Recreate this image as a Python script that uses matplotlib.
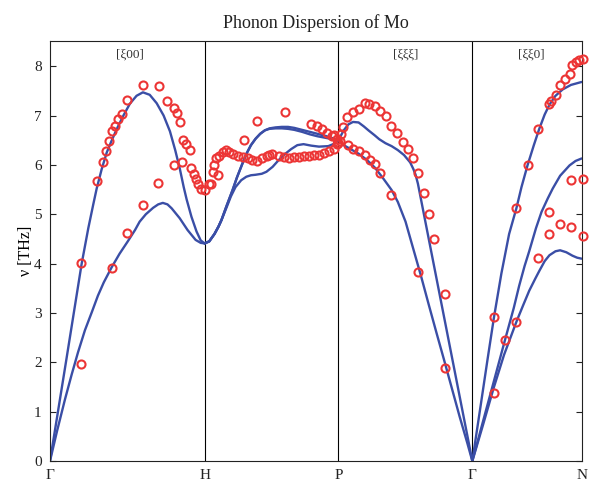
import numpy as np
import matplotlib
matplotlib.use("Agg")
from matplotlib import pyplot as plt

plt.rcParams['font.family'] = ['Liberation Serif', 'DejaVu Serif']

# --- high symmetry points (path length in units of 2pi/a) ---
sym_labels = ['Γ', 'H', 'P', 'Γ', 'N']
sym_pos = [0.0, 1.0, 1.866, 2.732, 3.439]
dir_labels = ['[ξ00]', '[ξξξ]', '[ξξ0]']
dir_pos = [0.52, 2.30, 3.113]

# --- calculated branches ---
gh_up_x = [0.0, 0.103, 0.205, 0.248, 0.28, 0.302, 0.335, 0.367, 0.40, 0.431, 0.475, 0.517, 0.56, 0.601,
           0.645, 0.690, 0.735, 0.776, 0.81, 0.840, 0.865, 0.884, 0.915, 0.948, 0.975, 1.0]
gh_up_y = [0.0, 2.00, 4.00, 4.72, 5.20, 5.52, 5.92, 6.25, 6.50, 6.72, 7.00, 7.24, 7.40, 7.47,
           7.42, 7.25, 7.00, 6.68, 6.30, 5.92, 5.55, 5.30, 4.95, 4.65, 4.47, 4.41]
gh_lo_x = [0.0, 0.045, 0.097, 0.14, 0.181, 0.226, 0.271, 0.31, 0.348, 0.398, 0.45, 0.503, 0.55, 0.58,
           0.62, 0.667, 0.70, 0.73, 0.76, 0.787, 0.839, 0.89, 0.942, 0.975, 1.0]
gh_lo_y = [0.0, 0.60, 1.25, 1.75, 2.20, 2.65, 3.02, 3.35, 3.62, 3.92, 4.20, 4.45, 4.68, 4.85,
           5.00, 5.13, 5.20, 5.23, 5.20, 5.12, 4.92, 4.68, 4.48, 4.42, 4.41]

hp_up_x = [1.0, 1.03, 1.064, 1.09, 1.109, 1.14, 1.18, 1.21, 1.244, 1.27, 1.30, 1.33, 1.36, 1.39, 1.42,
           1.46, 1.50, 1.54, 1.58, 1.63, 1.68, 1.73, 1.78, 1.83, 1.866]
hp_up_y = [4.41, 4.45, 4.60, 4.75, 4.88, 5.15, 5.48, 5.75, 6.02, 6.22, 6.40, 6.53, 6.63, 6.70, 6.74,
           6.76, 6.77, 6.77, 6.75, 6.71, 6.67, 6.63, 6.59, 6.54, 6.50]
hp_up2_y = [4.41, 4.45, 4.60, 4.75, 4.88, 5.15, 5.48, 5.75, 6.02, 6.22, 6.40, 6.53, 6.63, 6.70, 6.73,
            6.74, 6.74, 6.73, 6.71, 6.67, 6.62, 6.58, 6.55, 6.52, 6.50]
hp_lo_x = [1.0, 1.03, 1.064, 1.09, 1.109, 1.14, 1.17, 1.20, 1.237, 1.27, 1.30, 1.33, 1.37, 1.40, 1.44,
           1.48, 1.52, 1.56, 1.60, 1.64, 1.69, 1.74, 1.80, 1.84, 1.866]
hp_lo_y = [4.41, 4.45, 4.60, 4.75, 4.88, 5.12, 5.36, 5.55, 5.69, 5.76, 5.79, 5.80, 5.82, 5.86, 5.96,
           6.10, 6.22, 6.32, 6.40, 6.42, 6.39, 6.37, 6.38, 6.43, 6.50]

pg_up_x = [1.866, 1.90, 1.93, 1.96, 1.996, 2.03, 2.06, 2.10, 2.13, 2.17, 2.21, 2.25, 2.29, 2.33, 2.35,
           2.365, 2.38, 2.732]
pg_up_y = [6.50, 6.70, 6.82, 6.87, 6.86, 6.78, 6.70, 6.60, 6.52, 6.44, 6.38, 6.30, 6.20, 6.05, 5.92,
           5.80, 5.62, 0.0]
pg_lo_x = [1.866, 1.90, 1.95, 2.00, 2.05, 2.10, 2.15, 2.21, 2.25, 2.30, 2.35, 2.40, 2.45, 2.50, 2.55,
           2.60, 2.65, 2.70, 2.732]
pg_lo_y = [6.50, 6.40, 6.31, 6.22, 6.10, 5.95, 5.75, 5.49, 5.25, 4.85, 4.30, 3.75, 3.17, 2.60, 2.04,
           1.47, 0.90, 0.36, 0.0]

gn_up_x = [2.732, 2.78, 2.83, 2.872, 2.92, 2.97, 3.017, 3.05, 3.089, 3.13, 3.165, 3.20, 3.231, 3.27,
           3.317, 3.37, 3.439]
gn_up_y = [0.0, 1.00, 2.05, 2.91, 3.80, 4.60, 5.12, 5.55, 5.99, 6.40, 6.73, 7.02, 7.22, 7.40,
           7.53, 7.62, 7.68]
gn_mid_x = [2.732, 2.80, 2.87, 2.944, 3.00, 3.035, 3.07, 3.10, 3.144, 3.18, 3.22, 3.252, 3.30, 3.361,
            3.40, 3.439]
gn_mid_y = [0.0, 0.79, 1.60, 2.46, 3.10, 3.55, 3.95, 4.25, 4.72, 5.05, 5.32, 5.52, 5.78, 5.99,
            6.08, 6.13]
gn_lo_x = [2.732, 2.80, 2.87, 2.937, 3.017, 3.06, 3.10, 3.14, 3.165, 3.20, 3.231, 3.27, 3.30, 3.34,
           3.38, 3.41, 3.439]
gn_lo_y = [0.0, 0.72, 1.48, 2.15, 2.82, 3.15, 3.45, 3.70, 3.85, 4.05, 4.17, 4.25, 4.27, 4.23,
           4.16, 4.12, 4.10]

# --- measured frequencies ---
exp_x = [0.200, 0.200, 0.398, 0.500, 0.301, 0.340, 0.361, 0.381, 0.398, 0.419, 0.441, 0.463, 0.501,
         0.602, 0.703, 0.759, 0.800, 0.824, 0.843, 0.860, 0.882, 0.903, 0.800, 0.852, 0.914, 0.929,
         0.942, 0.957, 0.979, 0.699, 0.602, 1.0, 1.028, 1.043,
         1.053, 1.064, 1.085, 1.075, 1.096, 1.117, 1.139, 1.160, 1.182, 1.214, 1.246, 1.278, 1.310,
         1.342, 1.374, 1.407, 1.417, 1.438, 1.481, 1.513, 1.545, 1.577, 1.609, 1.642, 1.674, 1.706,
         1.738, 1.770, 1.802, 1.834, 1.855, 1.257, 1.342, 1.518, 1.691, 1.727, 1.759, 1.792, 1.824,
         1.855, 1.840, 1.866, 1.879, 1.885,
         1.898, 1.920, 1.957, 1.996, 2.035, 2.065, 2.104, 2.137, 2.173, 2.208, 2.244, 2.281, 2.314,
         2.348, 2.380, 2.417, 2.450, 2.487, 2.554, 1.926, 1.963, 2.000, 2.035, 2.072, 2.104, 2.137,
         2.205, 2.380, 2.558,
         3.448, 3.422, 3.400, 3.378, 3.361, 3.333, 3.300, 3.274, 3.242, 3.226, 3.159, 3.089, 3.017,
         3.372, 3.448, 3.231, 3.300, 3.372, 3.231, 3.448, 3.159, 2.872, 2.944, 3.017, 2.872]
exp_y = [4.02, 1.96, 3.92, 4.63, 5.67, 6.06, 6.28, 6.48, 6.69, 6.78, 6.92, 7.04, 7.31,
         7.61, 7.59, 7.29, 7.16, 7.05, 6.87, 6.51, 6.42, 6.31, 5.99, 6.05, 5.93, 5.82,
         5.72, 5.62, 5.52, 5.64, 5.18, 5.50, 5.61, 5.62,
         5.86, 5.99, 5.79, 6.13, 6.19, 6.26, 6.30, 6.26, 6.23, 6.19, 6.16, 6.13, 6.09,
         6.08, 6.13, 6.19, 6.21, 6.23, 6.19, 6.16, 6.13, 6.16, 6.16, 6.17, 6.19, 6.21,
         6.21, 6.24, 6.28, 6.33, 6.43, 6.51, 6.89, 7.07, 6.82, 6.78, 6.73, 6.65, 6.58,
         6.53, 6.60, 6.45, 6.48, 6.62,
         6.77, 6.98, 7.07, 7.14, 7.25, 7.23, 7.19, 7.09, 7.00, 6.78, 6.65, 6.46, 6.33,
         6.14, 5.84, 5.44, 5.00, 4.49, 3.39, 6.40, 6.33, 6.28, 6.21, 6.09, 6.01, 5.84,
         5.38, 3.83, 1.88,
         8.14, 8.12, 8.08, 8.02, 7.85, 7.73, 7.61, 7.42, 7.29, 7.24, 6.73, 5.99, 5.12,
         5.69, 5.72, 5.05, 4.81, 4.74, 4.60, 4.55, 4.12, 2.91, 2.46, 2.82, 1.38]

line_col = '#3a4ea6'
dot_col = '#ec3535'

fig = plt.figure(figsize=(5.93, 4.91), dpi=100)
ax = fig.add_axes([0.0843, 0.061, 0.8965, 0.8545])

branches = [(gh_up_x, gh_up_y), (gh_lo_x, gh_lo_y),
            (hp_up_x, hp_up_y), (hp_up_x, hp_up2_y), (hp_lo_x, hp_lo_y),
            (pg_up_x, pg_up_y), (pg_lo_x, pg_lo_y),
            (gn_up_x, gn_up_y), (gn_mid_x, gn_mid_y), (gn_lo_x, gn_lo_y)]
for bx, by in branches:
    ax.plot(bx, by, color=line_col, lw=1.7, solid_joinstyle='round', solid_capstyle='round')

ax.plot(exp_x, exp_y, 'o', ls='none', mfc='none', mec=dot_col, mew=1.5, ms=5.8, clip_on=False, zorder=3)

for p in sym_pos[1:-1]:
    ax.axvline(p, color='black', lw=0.8, zorder=1)

for lab, p in zip(dir_labels, dir_pos):
    ax.text(p, 8.24, lab, ha='center', va='center', fontsize=9.5, color='#333333')

ax.set_xlim(sym_pos[0], sym_pos[-1])
ax.set_ylim(0, 8.5)
ax.set_xticks(sym_pos)
ax.set_xticklabels(sym_labels)
ax.set_yticks(range(0, 9))
ax.tick_params(direction='in', length=4, width=0.8, labelsize=11, right=True, top=False, pad=6, colors='#222222')
ax.tick_params(axis='x', length=0)
for s in ax.spines.values():
    s.set_linewidth(0.8)
    s.set_color('#222222')

ax.set_ylabel('ν [THz]', fontsize=11.5, labelpad=0)
ax.set_title('Phonon Dispersion of Mo', fontsize=13, pad=10, color='#222222')

fig.savefig('out.png', dpi=100)
